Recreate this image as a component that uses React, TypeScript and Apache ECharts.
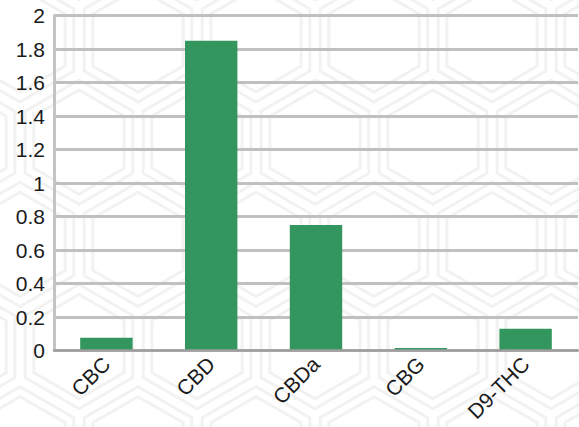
import React, { useEffect, useRef } from "react";
import * as echarts from "echarts";

const categories = ["CBC", "CBD", "CBDa", "CBG", "D9-THC"];
const values = [0.076, 1.85, 0.75, 0.015, 0.13];
const yMin = 0;
const yMax = 2;
const yStep = 0.2;

function hexPoints(cx: number, cy: number, r: number): number[][] {
  const pts: number[][] = [];
  for (let i = 0; i < 6; i++) {
    const a = (Math.PI / 3) * i + Math.PI / 6;
    pts.push([cx + r * Math.cos(a), cy + r * Math.sin(a)]);
  }
  return pts;
}

function buildPattern() {
  const els: any[] = [];
  const W = 118;
  const R = W / Math.sqrt(3);
  const rowH = 1.5 * R;
  for (let row = -1; row < 6; row++) {
    for (let col = -1; col < 7; col++) {
      const cx = col * W + (row % 2 ? W / 2 : 0) + 20;
      const cy = row * rowH + 40;
      [R - 6, R - 16].forEach((r) => {
        els.push({
          type: "polygon",
          silent: true,
          z: -10,
          shape: { points: hexPoints(cx, cy, r) },
          style: { fill: "none", stroke: "#f2f2f2", lineWidth: 3 },
        });
      });
    }
  }
  return els;
}

const labelFont = "'Liberation Sans', Arial, sans-serif";

export default function App() {
  const ref = useRef<HTMLDivElement>(null);
  useEffect(() => {
    const chart = echarts.init(ref.current!, null, { renderer: "svg" });
    chart.setOption({
      animation: false,
      backgroundColor: "#ffffff",
      graphic: { elements: buildPattern() },
      grid: { left: 54, right: 1, top: 15.5, bottom: 76.5, containLabel: false },
      xAxis: {
        type: "category",
        data: categories,
        axisTick: { show: false },
        axisLine: { show: true, lineStyle: { color: "#9e9e9e", width: 2.5 } },
        axisLabel: {
          rotate: 45,
          interval: 0,
          fontSize: 21,
          fontFamily: labelFont,
          color: "#1a1a1a",
          margin: 10,
          padding: [0, 0, 0, 0],
        },
        z: 5,
      },
      yAxis: {
        type: "value",
        min: yMin,
        max: yMax,
        interval: yStep,
        axisLine: { show: true, lineStyle: { color: "#c4c4c4", width: 3 } },
        axisTick: { show: false },
        splitLine: { show: true, lineStyle: { color: "#c0c0c0", width: 3 } },
        axisLabel: {
          fontSize: 21,
          fontFamily: labelFont,
          color: "#1a1a1a",
          margin: 9,
        },
      },
      series: [
        {
          type: "bar",
          data: values,
          barWidth: "50%",
          itemStyle: { color: "#33965e" },
          z: 3,
        },
      ],
    });
    return () => chart.dispose();
  }, []);
  return (
    <div
      ref={ref}
      style={{ position: "fixed", left: 0, top: 0, width: 579, height: 427 }}
    />
  );
}
